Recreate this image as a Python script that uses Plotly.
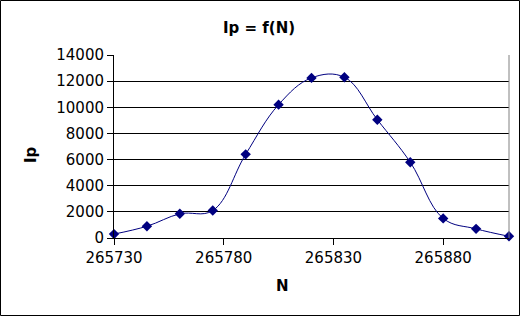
import plotly.graph_objects as go

N = [265730, 265745, 265760, 265775, 265790, 265805, 265820, 265835, 265850, 265865, 265880, 265895, 265910]
Ip = [300, 900, 1850, 2100, 6400, 10200, 12250, 12300, 9050, 5800, 1500, 700, 130]

x_ticks = [265730, 265780, 265830, 265880]
x_labels = [str(v) for v in x_ticks]
y_ticks = [0, 2000, 4000, 6000, 8000, 10000, 12000, 14000]
y_labels = [str(v) for v in y_ticks]

W, H = 520, 316
L, R, T, B = 114, 11, 55, 78
pw, ph = W - L - R, H - T - B

fig = go.Figure()
fig.add_trace(go.Scatter(
    x=N, y=Ip, mode="lines+markers",
    line=dict(color="#000080", width=1, shape="spline", smoothing=1.1),
    marker=dict(symbol="diamond", size=8, color="#000080"),
    showlegend=False, cliponaxis=False,
))

font = "DejaVu Sans"
fig.update_layout(
    width=W, height=H,
    margin=dict(l=L, r=R, t=T, b=B, pad=0),
    paper_bgcolor="white", plot_bgcolor="white",
    font=dict(family=font, size=15, color="black"),
    xaxis=dict(range=[265730, 265910], tickvals=x_ticks, ticktext=x_labels,
               ticks="outside", ticklen=6,
               tickcolor="black", showline=True, linecolor="black", linewidth=1,
               showgrid=False, zeroline=False, tickfont=dict(size=15)),
    yaxis=dict(range=[0, 14000], tickvals=y_ticks, ticktext=y_labels,
               ticks="outside", ticklen=6,
               tickcolor="black", showline=True, linecolor="black", linewidth=1,
               showgrid=True, gridcolor="black", gridwidth=1, zeroline=False,
               tickfont=dict(size=15)),
    annotations=[
        dict(text="<b>Ip = f(N)</b>", x=(259 - L) / pw, y=1 + (T - 28) / ph,
             xref="paper", yref="paper", showarrow=False, font=dict(size=15),
             xanchor="center", yanchor="middle"),
        dict(text="<b>N</b>", x=(282 - L) / pw, y=-(285.5 - T - ph) / ph,
             xref="paper", yref="paper", showarrow=False, font=dict(size=15),
             xanchor="center", yanchor="middle"),
        dict(text="<b>Ip</b>", x=(31 - L) / pw, y=1 - (155 - T) / ph,
             xref="paper", yref="paper", showarrow=False, font=dict(size=15),
             xanchor="center", yanchor="middle", textangle=-90),
    ],
    shapes=[
        dict(type="line", xref="paper", yref="paper", x0=1, x1=1, y0=0, y1=1,
             line=dict(color="#808080", width=1)),
        dict(type="rect", xref="paper", yref="paper",
             x0=-(L - 0.5) / pw, x1=1 + (R - 0.5) / pw,
             y0=-(B - 0.5) / ph, y1=1 + (T - 0.5) / ph,
             line=dict(color="black", width=1)),
    ],
)

fig.write_html("out.html")
